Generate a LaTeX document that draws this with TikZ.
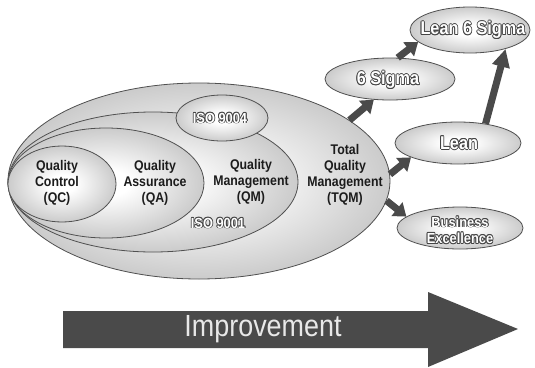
\documentclass[tikz,border=0pt]{standalone}
\usepackage{fontspec}
\setmainfont[FakeStretch=0.88]{Liberation Sans}
\usetikzlibrary{shapes.geometric,arrows.meta}

\definecolor{rimgray}{HTML}{878787}
\definecolor{edgeline}{HTML}{505050}
\definecolor{outlinegray}{HTML}{444444}
\definecolor{arrowgray}{HTML}{4A4A4A}
\definecolor{inktext}{HTML}{1C1C1C}
\definecolor{paletext}{HTML}{E8E8E8}

% soft light centre fading to grey at the rim
\pgfdeclareradialshading{glow}{\pgfpointorigin}{%
  color(0bp)=(white); color(6bp)=(white); color(50bp)=(rimgray)}

% white letters with a thin dark outline
\newcommand\hollow[1]{{\setbox0=\hbox{#1}%
  \def\ofs##1##2{\rlap{\kern##1\raise##2\hbox{\color{outlinegray}\copy0}}}%
  \ofs{-.8pt}{0pt}\ofs{.8pt}{0pt}\ofs{0pt}{.8pt}\ofs{0pt}{-.8pt}%
  \ofs{.6pt}{.6pt}\ofs{-.6pt}{.6pt}\ofs{.6pt}{-.6pt}\ofs{-.6pt}{-.6pt}%
  \color{white}\box0}}

\tikzset{
  blob/.style={ellipse, draw=edgeline, line width=0.8pt, shading=glow, inner sep=0pt},
  tag/.style={text=inktext, font=\fontsize{14}{16}\selectfont\bfseries, align=center, inner sep=0pt},
  bigout/.style={font=\fontsize{18.5}{20}\selectfont\bfseries, inner sep=0pt},
  smallout/.style={font=\fontsize{14.6}{16.5}\selectfont\bfseries, inner sep=0pt},
  flow/.style={draw=arrowgray, line width=7pt, -{Triangle[length=12pt,width=17pt]}},
  longflow/.style={flow, -{Triangle[length=18pt,width=17pt]}},
}

\begin{document}
\begin{tikzpicture}[x=1pt,y=-1pt]
  \fill[white] (0,0) rectangle (535,367);
  \useasboundingbox (0,0) rectangle (535,367);

  % nested quality approaches
  \node[blob, minimum width=382pt, minimum height=196pt] (tqm) at (199,181) {};
  \node[blob, minimum width=290pt, minimum height=140pt] (qm) at (153,182) {};
  \node[blob, minimum width=196pt, minimum height=110pt] (qa) at (106,183) {};
  \node[blob, minimum width=108pt, minimum height=76pt] (qc) at (62,184) {};
  \node[blob, minimum width=92pt, minimum height=46pt] (iso4) at (222,118) {};

  \node[tag] (qctext) at (57,183) {Quality\\Control\\(QC)};
  \node[tag] (qatext) at (155,183) {Quality\\Assurance\\(QA)};
  \node[tag] (qmtext) at (251,182) {Quality\\Management\\(QM)};
  \node[tag] (tqmtext) at (345,175) {Total\\Quality\\Management\\(TQM)};
  \node[smallout] (iso4text) at (220,118) {\hollow{ISO 9004}};
  \node[smallout] (iso1text) at (218,223) {\hollow{ISO 9001}};

  % successor approaches
  \node[blob, minimum width=120pt, minimum height=46pt] (l6s) at (470,30) {};
  \node[blob, minimum width=130pt, minimum height=42pt] (six) at (390,79) {};
  \node[blob, minimum width=126pt, minimum height=42pt] (lean) at (458,143) {};
  \node[blob, minimum width=126pt, minimum height=42pt] (bex) at (460,228) {};

  \node[bigout] (l6stext) at (473,30) {\hollow{Lean 6 Sigma}};
  \node[bigout] (sixtext) at (388,80) {\hollow{6 Sigma}};
  \node[bigout] (leantext) at (459,143) {\hollow{Lean}};
  \node[smallout] (bextext) at (460,232)
    {\hollow{\begin{tabular}{@{}c@{}}Business\\Excellence\end{tabular}}};

  % development paths
  \draw[flow] (tqm.22) -- (six.232);
  \draw[flow] (six.70) -- (l6s.193);
  \draw[longflow] (lean.35) -- (l6s.-28);
  \draw[flow] (tqm.2) -- (lean.197);
  \draw[flow] (tqm.-6) -- (bex.168);

  % improvement arrow
  \fill[arrowgray] (63,311) -- (428,311) -- (428,292) -- (518,329)
    -- (428,367) -- (428,348) -- (63,348) -- cycle;
  \node[text=paletext, font=\fontsize{30.6}{32}\selectfont, inner sep=0pt]
    (improve) at (263,329) {Improvement};
\end{tikzpicture}
\end{document}
